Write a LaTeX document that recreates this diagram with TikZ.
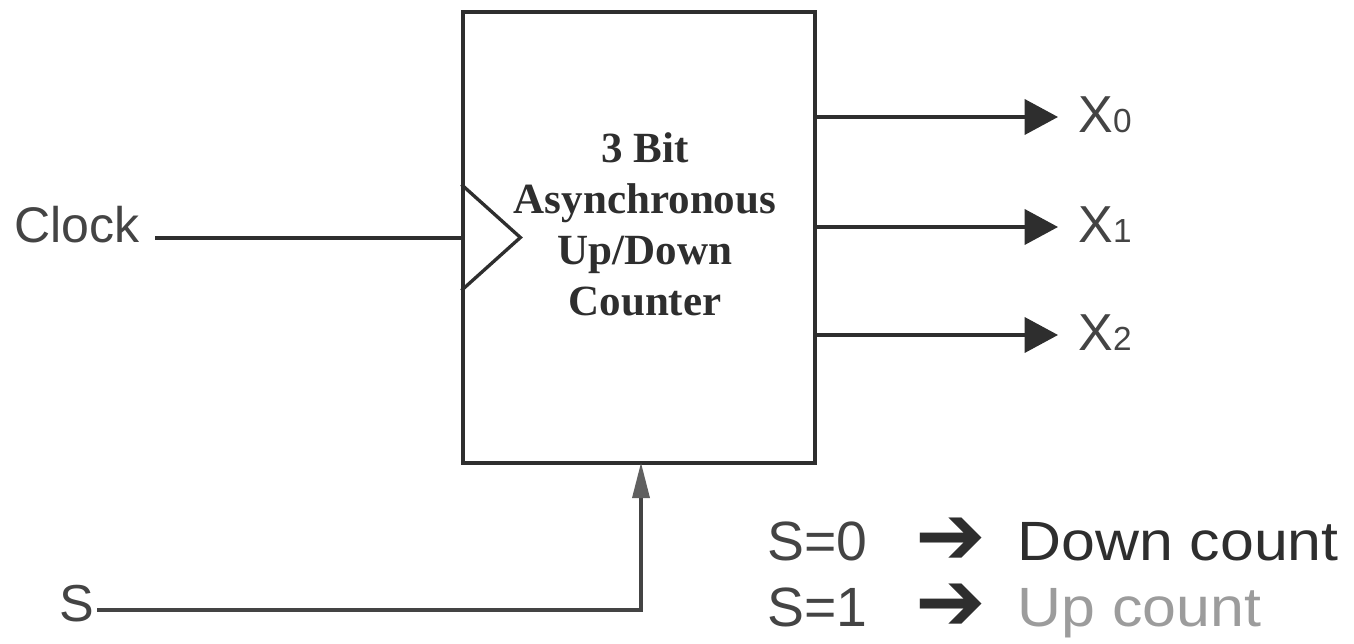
\documentclass[tikz,border=0pt]{standalone}
\usepackage{fontspec}
\setmainfont{Liberation Serif}
\newfontfamily\arialf{Liberation Sans}
\newfontfamily\arialwide[FakeStretch=1.1]{Liberation Sans}
\newfontfamily\symf{DejaVu Sans}
\usetikzlibrary{arrows.meta, positioning, calc}
\definecolor{ink}{HTML}{2E2E2E}
\definecolor{midgray}{HTML}{444444}
\definecolor{softgray}{HTML}{9C9C9C}

\tikzset{
  block/.style={draw=ink, line width=1.9pt, minimum width=7.04cm, minimum height=9.02cm, inner sep=0pt},
  wire/.style={draw=ink, line width=1.9pt},
  outarrow/.style={wire, -{Triangle[length=19pt,width=20pt]}},
  sig/.style={font=\arialf\fontsize{28.5}{30}\selectfont, text=midgray, inner sep=0pt},
  outlbl/.style={font=\arialf\fontsize{29.6}{30}\selectfont, text=midgray, inner sep=0pt, anchor=base west},
  legend/.style={font=\arialf\fontsize{31.5}{33}\selectfont, text=midgray, inner sep=0pt, anchor=base west},
  legarrow/.style={font=\symf\bfseries\fontsize{24}{24}\selectfont, text=ink, inner sep=0pt},
}

\begin{document}
\begin{tikzpicture}[x=0.02cm, y=-0.02cm]
\useasboundingbox (0,0) rectangle (1354,644);

% counter block
\node[block] (ctr) at (639,237.5) {};
\node[align=center, inner sep=0pt, text=ink, font=\bfseries\fontsize{24.5}{29}\selectfont] (ctrlbl) at (645,224)
  {3 Bit\\Asynchronous\\Up/Down\\Counter};

% clock input with edge marker
\draw[wire] ($(ctr.west)+(0,-53)$) -- ($(ctr.west)+(59,0)$) -- ($(ctr.west)+(0,53)$);
\node[sig, anchor=base west] (clk) at (14,243) {Clock};
\coordinate (clkin) at (155,238);
\draw[wire] (clkin) -- (clkin -| ctr.west);

% outputs
\foreach \i/\yy in {0/117, 1/227, 2/335} {
  \node[outlbl] (x\i) at (1078,\yy+16) {X{\fontsize{19}{20}\selectfont\i}};
  \draw[outarrow] (ctr.east |- 0,\yy) -- (1058,\yy);
}

% select input
\node[sig, anchor=base west, font=\arialf\fontsize{29.6}{30}\selectfont] (sel) at (59,621) {S};
\coordinate (selin) at (97,610);
\draw[wire, draw=midgray] (selin) -| (641,470);
\fill[gray!75!black] (632,498) -- (650,498) -- (641,463) -- cycle;

% legend
\node[legend] (s0) at (767,560) {S=0};
\node[legarrow] (a0) at (951,541) {\scalebox{2}{➔}};
\node[legend, font=\arialwide\fontsize{31.5}{33}\selectfont, text=ink] (dn) at (1017,560) {Down count};
\node[legend] (s1) at (767,626) {S=1};
\node[legarrow] (a1) at (951,607) {\scalebox{2}{➔}};
\node[legend, font=\arialwide\fontsize{31.5}{33}\selectfont, text=softgray] (up) at (1017,626) {Up count};
\end{tikzpicture}
\end{document}
